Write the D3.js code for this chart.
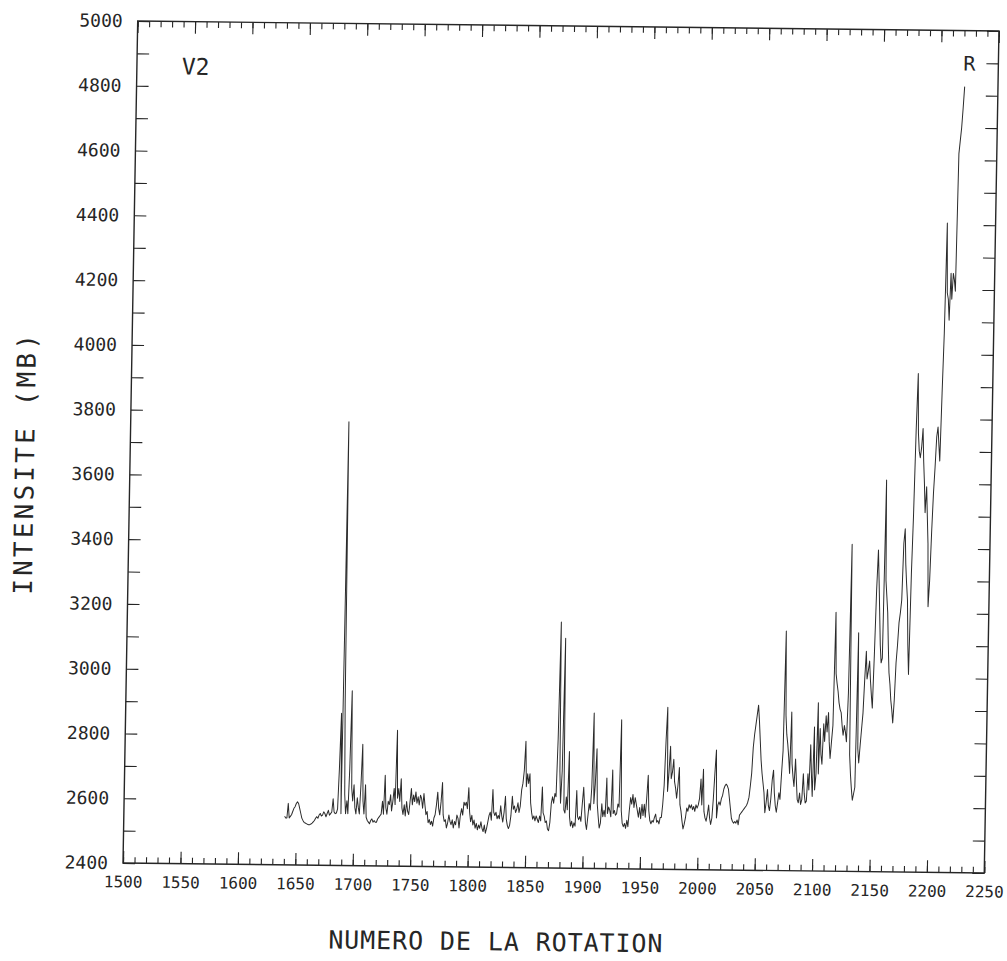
<!DOCTYPE html>
<html><head><meta charset="utf-8">
<script src="https://cdn.jsdelivr.net/npm/d3@7"></script>
<style>body{margin:0;background:#fff}svg{display:block}</style>
</head><body>
<svg id="chart" width="1007" height="961"></svg>
<script>
// ---- data ----
const firstRotation = 1640;
const intensity = [
/*1640*/ 2550,2545,2545,2590,2545,2550,2555,2565,2575,2580,
/*1650*/ 2590,2595,2590,2575,2560,2545,2538,2532,2530,2528,
/*1660*/ 2526,2525,2525,2527,2530,2534,2538,2545,2550,2545,
/*1670*/ 2555,2560,2552,2555,2565,2560,2550,2560,2570,2555,
/*1680*/ 2560,2565,2606,2565,2560,2562,2575,2700,2870,2560,
/*1690*/ 3770,2900,2620,2560,2600,2560,2700,2940,2640,2600,
/*1700*/ 2650,2580,2560,2610,2580,2560,2650,2775,2600,2560,
/*1710*/ 2650,2550,2540,2535,2530,2540,2545,2535,2540,2535,
/*1720*/ 2535,2545,2550,2555,2560,2600,2560,2680,2580,2560,
/*1730*/ 2600,2590,2620,2570,2600,2640,2590,2820,2610,2640,
/*1740*/ 2600,2670,2580,2560,2590,2555,2600,2570,2560,2600,
/*1750*/ 2640,2590,2620,2600,2630,2595,2615,2590,2620,2610,
/*1760*/ 2580,2625,2590,2560,2570,2535,2545,2530,2540,2525,
/*1770*/ 2550,2560,2590,2630,2580,2560,2600,2660,2560,2540,
/*1780*/ 2545,2520,2535,2560,2540,2530,2545,2520,2540,2530,
/*1790*/ 2560,2550,2520,2560,2580,2560,2600,2590,2600,2580,
/*1800*/ 2645,2570,2540,2560,2530,2545,2520,2535,2515,2530,
/*1810*/ 2520,2540,2520,2510,2530,2505,2520,2540,2560,2570,
/*1820*/ 2545,2640,2570,2560,2570,2550,2560,2550,2590,2560,
/*1830*/ 2540,2570,2620,2550,2530,2520,2530,2560,2620,2580,
/*1840*/ 2590,2570,2580,2600,2570,2590,2640,2660,2700,2790,
/*1850*/ 2650,2690,2660,2690,2600,2570,2550,2560,2545,2560,
/*1860*/ 2550,2540,2560,2545,2650,2570,2560,2540,2545,2520,
/*1870*/ 2515,2540,2600,2620,2600,2630,2620,2800,3160,2700,
/*1880*/ 2600,2700,3110,2580,2570,2620,2580,2760,2560,2530,
/*1890*/ 2545,2525,2540,2530,2640,2560,2550,2560,2545,2600,
/*1900*/ 2650,2590,2540,2520,2560,2600,2580,2650,2880,2600,
/*1910*/ 2660,2770,2600,2560,2525,2540,2600,2560,2580,2560,
/*1920*/ 2680,2570,2590,2580,2560,2705,2570,2580,2565,2570,
/*1930*/ 2600,2590,2860,2580,2540,2530,2540,2525,2550,2530,
/*1940*/ 2580,2620,2600,2630,2590,2620,2600,2580,2560,2590,
/*1950*/ 2555,2600,2565,2600,2560,2620,2690,2580,2550,2540,
/*1960*/ 2550,2545,2560,2570,2545,2550,2540,2560,2560,2600,
/*1970*/ 2660,2800,2900,2640,2700,2780,2680,2700,2740,2670,
/*1980*/ 2650,2620,2660,2715,2600,2580,2550,2525,2540,2560,
/*1990*/ 2590,2580,2600,2590,2600,2585,2595,2580,2600,2590,
/*2000*/ 2600,2620,2680,2600,2710,2580,2560,2550,2570,2600,
/*2010*/ 2560,2540,2560,2620,2700,2770,2560,2600,2610,2600,
/*2020*/ 2620,2630,2650,2660,2665,2660,2650,2620,2590,2560,
/*2030*/ 2550,2545,2550,2545,2555,2540,2570,2575,2580,2585,
/*2040*/ 2590,2595,2600,2610,2625,2660,2700,2780,2820,2850,
/*2050*/ 2880,2910,2860,2800,2740,2700,2670,2640,2578,2610,
/*2060*/ 2650,2600,2585,2620,2680,2710,2640,2600,2580,2610,
/*2070*/ 2640,2620,2700,2770,3140,2880,2820,2790,2750,2700,
/*2080*/ 2890,2730,2690,2660,2745,2680,2620,2610,2640,2605,
/*2090*/ 2620,2700,2640,2610,2615,2700,2650,2790,2700,2630,
/*2100*/ 2845,2650,2700,2920,2700,2840,2760,2730,2855,2800,
/*2110*/ 2880,2830,2890,2800,2748,2800,2850,3200,3010,2980,
/*2120*/ 2955,2920,2900,2890,2850,2820,2850,2830,2800,2950,
/*2130*/ 3410,2760,2700,2655,2620,2640,2660,3137,2780,2735,
/*2140*/ 2790,2840,2890,2995,3080,2995,3020,3050,2990,2945,
/*2150*/ 2905,3070,3270,3393,3300,3200,3100,3045,3060,3610,
/*2160*/ 3300,3250,3200,3100,3015,2980,2930,2900,2860,2930,
/*2170*/ 3045,3100,3170,3200,3240,3415,3460,3350,3290,3240,
/*2180*/ 3100,3010,3320,3505,3765,3940,3756,3700,3680,3710,
/*2190*/ 3770,3670,3600,3510,3590,3500,3415,3220,3300,3450,
/*2200*/ 3570,3650,3745,3775,3720,3670,3880,4065,4405,4190,
/*2210*/ 4170,4105,4250,4170,4250,4230,4195,4620,4660,4700,
/*2220*/ 4760,4827
];
const rotation = intensity.map((_, i) => firstRotation + i);

const xDomain = [1500, 2250];
const yDomain = [2400, 5000];
const xMajorTicks = [1500,1550,1600,1650,1700,1750,1800,1850,1900,1950,2000,2050,2100,2150,2200,2250];
const xTickLabels = ["1500","1550","1600","1650","1700","1750","1800","1850","1900","1950","2000","2050","2100","2150","2200","2250"];
const yMajorTicks = [2400,2600,2800,3000,3200,3400,3600,3800,4000,4200,4400,4600,4800,5000];
const yTickLabels = ["2400","2600","2800","3000","3200","3400","3600","3800","4000","4200","4400","4600","4800","5000"];
const xLabel = "NUMERO DE LA ROTATION";
const yLabel = "INTENSITE (MB)";
const cornerLabels = ["V2", "R"];

// ---- layout ----
const W = 861, H = 842;
const ink = "#262626";
const font = "'DejaVu Sans Mono', monospace";

const svg = d3.select("#chart");
svg.append("rect").attr("width", 1007).attr("height", 961).attr("fill", "#fff");

// the scanned page is slightly rotated
const g = svg.append("g").attr("transform", "matrix(1.0003,0.0116,-0.01746,1,137.7,21)");

const x = d3.scaleLinear().domain(xDomain).range([0, W]);
const y = d3.scaleLinear().domain(yDomain).range([H, 0]);

const xMinor = d3.range(xDomain[0], xDomain[1] + 1, 10);
const yMinor = d3.range(yDomain[0], yDomain[1] + 1, 100);

function style(sel) {
  sel.select(".domain").remove();
  sel.selectAll("line").attr("stroke", ink).attr("stroke-width", 1.1);
  sel.selectAll("text").attr("fill", ink).attr("font-family", font);
}

// bottom axis
g.append("g").attr("transform", `translate(0,${H})`)
  .call(d3.axisBottom(x).tickValues(xMinor).tickSize(-6).tickFormat(""))
  .call(style);
g.append("g").attr("transform", `translate(0,${H})`)
  .call(d3.axisBottom(x).tickValues(xMajorTicks).tickSize(-12).tickPadding(13)
        .tickFormat((d, i) => xTickLabels[i]))
  .call(style)
  .call(s => s.selectAll("text").attr("font-size", 16));
// top axis
g.append("g")
  .call(d3.axisTop(x).tickValues(xMinor).tickSize(-6).tickFormat(""))
  .call(style);
g.append("g")
  .call(d3.axisTop(x).tickValues(xMajorTicks).tickSize(-12).tickFormat(""))
  .call(style);
// left axis
g.append("g")
  .call(d3.axisLeft(y).tickValues(yMinor).tickSize(-12).tickFormat(""))
  .call(style);
g.append("g")
  .call(d3.axisLeft(y).tickValues(yMajorTicks).tickSize(0).tickPadding(15)
        .tickFormat((d, i) => yTickLabels[i]))
  .call(style)
  .call(s => s.selectAll("text").attr("font-size", 18));
// right axis
g.append("g").attr("transform", `translate(${W},0)`)
  .call(d3.axisRight(y).tickValues(yMinor).tickSize(-12).tickFormat(""))
  .call(style);

// frame
g.append("rect").attr("width", W).attr("height", H)
  .attr("fill", "none").attr("stroke", ink).attr("stroke-width", 1.4);

// data line
const pts = rotation.map((r, i) => [r, intensity[i]]);
g.append("path").datum(pts)
  .attr("fill", "none").attr("stroke", "#2b2b2b").attr("stroke-width", 1)
  .attr("stroke-linejoin", "round")
  .attr("d", d3.line().x(d => x(d[0])).y(d => y(d[1])));

// labels
g.append("text").attr("x", 45).attr("y", 53).text(cornerLabels[0])
  .attr("font-family", font).attr("font-size", 23).attr("fill", ink);
g.append("text").attr("x", 832).attr("y", 40).attr("text-anchor", "middle").text(cornerLabels[1])
  .attr("font-family", font).attr("font-size", 20).attr("fill", ink);

g.append("text").attr("x", 374).attr("y", 925).attr("text-anchor", "middle").text(xLabel)
  .attr("font-family", font).attr("font-size", 25).attr("letter-spacing", 0.9).attr("fill", ink);
g.append("text").attr("transform", "translate(-96,443) rotate(-90)")
  .attr("text-anchor", "middle").text(yLabel)
  .attr("font-family", font).attr("font-size", 26).attr("letter-spacing", 3.2).attr("fill", ink);
</script>
</body></html>
